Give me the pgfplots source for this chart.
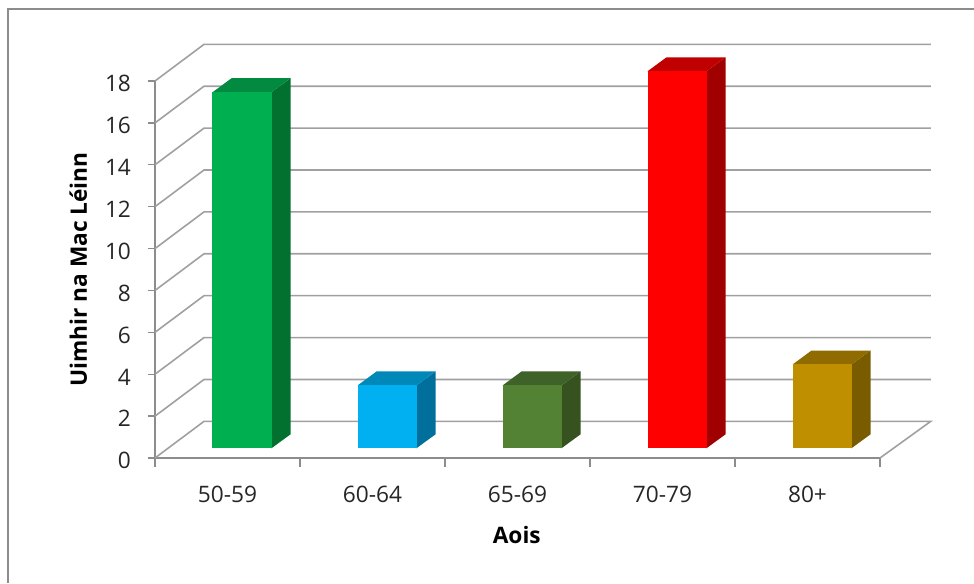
\documentclass[border=0pt]{standalone}
\usepackage{pgfplots}
\usepackage{fontspec}
\setmainfont{Open Sans}
\pgfplotsset{compat=1.18}
\definecolor{wallgray}{HTML}{A0A0A0}
\definecolor{axisgray}{HTML}{8C8C8C}
\definecolor{labelgray}{HTML}{262626}
\definecolor{greenF}{HTML}{00B050}
\definecolor{greenT}{HTML}{038A41}
\definecolor{greenS}{HTML}{02702F}
\definecolor{blueF}{HTML}{00B0F0}
\definecolor{blueT}{HTML}{0088B8}
\definecolor{blueS}{HTML}{006F9B}
\definecolor{oliveF}{HTML}{548235}
\definecolor{oliveT}{HTML}{3F6228}
\definecolor{oliveS}{HTML}{36521F}
\definecolor{redF}{HTML}{FF0000}
\definecolor{redT}{HTML}{C00000}
\definecolor{redS}{HTML}{A00000}
\definecolor{goldF}{HTML}{BF8F00}
\definecolor{goldT}{HTML}{8F6B00}
\definecolor{goldS}{HTML}{7A5C00}
\pgfplotsset{
  wall/.style={no marks,draw=wallgray,line width=1.2pt},
  face/.style={no marks,draw=none,fill=#1},
  front/.style={ybar,bar width=44.25pt,bar shift=0pt,draw=none,fill=#1},
}
\begin{document}
\begin{tikzpicture}[x=0.75pt,y=0.75pt]
  % one unit is one reference pixel, origin at the axis corner (155,458)
  \useasboundingbox (-155,-125) rectangle (819,458);
  \draw[axisgray,line width=1pt] (-147,-125) -- (-147,449) -- (819,449);
  \begin{axis}[
      at={(0,0)},anchor=origin,
      scale only axis,
      width=543.75pt,
      height=282.75pt,
      xmin=0,xmax=5,ymin=0,ymax=18,
      clip=false,
      axis lines=left,
      axis line style={-,draw=axisgray,line width=1.2pt},
      xtick={0.5,1.5,2.5,3.5,4.5},
      xticklabels={50-59,60-64,65-69,70-79,80+},
      minor xtick={0,1,2,3,4,5},
      ytick={0,2,4,6,8,10,12,14,16,18},
      tick align=outside,
      major tick length=5.5pt,
      minor tick length=7pt,
      major x tick style={draw=none},
      minor x tick style={draw=axisgray,line width=1pt},
      major y tick style={draw=axisgray,line width=1pt},
      tick label style={font=\fontsize{17}{20}\selectfont,text=labelgray},
      /pgf/number format/assume math mode=true,
      xticklabel style={yshift=-11.75pt},
      yticklabel style={xshift=-9pt,yshift=-2pt},
      xlabel={\textbf{Aois}},
      ylabel={\textbf{Uimhir na Mac Léinn}},
      label style={font=\fontsize{17}{20}\selectfont},
      xlabel style={at={(axis description cs:0.499,0)},anchor=center,yshift=-57.75pt},
      ylabel style={at={(axis description cs:0,0.5)},anchor=center,yshift=57.5pt},
  ]
    % side wall and back wall lines
    \addplot[wall] coordinates {(0,0)(0.338,1.75)(5.35,1.75)(5,0)};
    \addplot[wall] coordinates {(0,2)(0.338,3.75)(5.35,3.75)};
    \addplot[wall] coordinates {(0,4)(0.338,5.75)(5.35,5.75)};
    \addplot[wall] coordinates {(0,6)(0.338,7.75)(5.35,7.75)};
    \addplot[wall] coordinates {(0,8)(0.338,9.75)(5.35,9.75)};
    \addplot[wall] coordinates {(0,10)(0.338,11.75)(5.35,11.75)};
    \addplot[wall] coordinates {(0,12)(0.338,13.75)(5.35,13.75)};
    \addplot[wall] coordinates {(0,14)(0.338,15.75)(5.35,15.75)};
    \addplot[wall] coordinates {(0,16)(0.338,17.75)(5.35,17.75)};
    \addplot[wall] coordinates {(0,18)(0.338,19.75)(5.35,19.75)};
    % the scope's shift takes effect twice, so this lifts the bars 10 px off the floor edge
    \begin{scope}[yshift=3.65pt]
    % 50-59
    \addplot[face=greenS] coordinates {(0.803,0)(0.935,0.668)(0.935,17.668)(0.803,17)};
    \addplot[face=greenT] coordinates {(0.397,17)(0.803,17)(0.935,17.668)(0.528,17.668)};
    \addplot[front=greenF] coordinates {(0.6,17)};
    % 60-64
    \addplot[face=blueS] coordinates {(1.803,0)(1.935,0.668)(1.935,3.668)(1.803,3)};
    \addplot[face=blueT] coordinates {(1.397,3)(1.803,3)(1.935,3.668)(1.528,3.668)};
    \addplot[front=blueF] coordinates {(1.6,3)};
    % 65-69
    \addplot[face=oliveS] coordinates {(2.803,0)(2.935,0.668)(2.935,3.668)(2.803,3)};
    \addplot[face=oliveT] coordinates {(2.397,3)(2.803,3)(2.935,3.668)(2.528,3.668)};
    \addplot[front=oliveF] coordinates {(2.6,3)};
    % 70-79
    \addplot[face=redS] coordinates {(3.803,0)(3.935,0.668)(3.935,18.668)(3.803,18)};
    \addplot[face=redT] coordinates {(3.397,18)(3.803,18)(3.935,18.668)(3.528,18.668)};
    \addplot[front=redF] coordinates {(3.6,18)};
    % 80+
    \addplot[face=goldS] coordinates {(4.803,0)(4.935,0.668)(4.935,4.668)(4.803,4)};
    \addplot[face=goldT] coordinates {(4.397,4)(4.803,4)(4.935,4.668)(4.528,4.668)};
    \addplot[front=goldF] coordinates {(4.6,4)};
    \end{scope}
  \end{axis}
\end{tikzpicture}
\end{document}
